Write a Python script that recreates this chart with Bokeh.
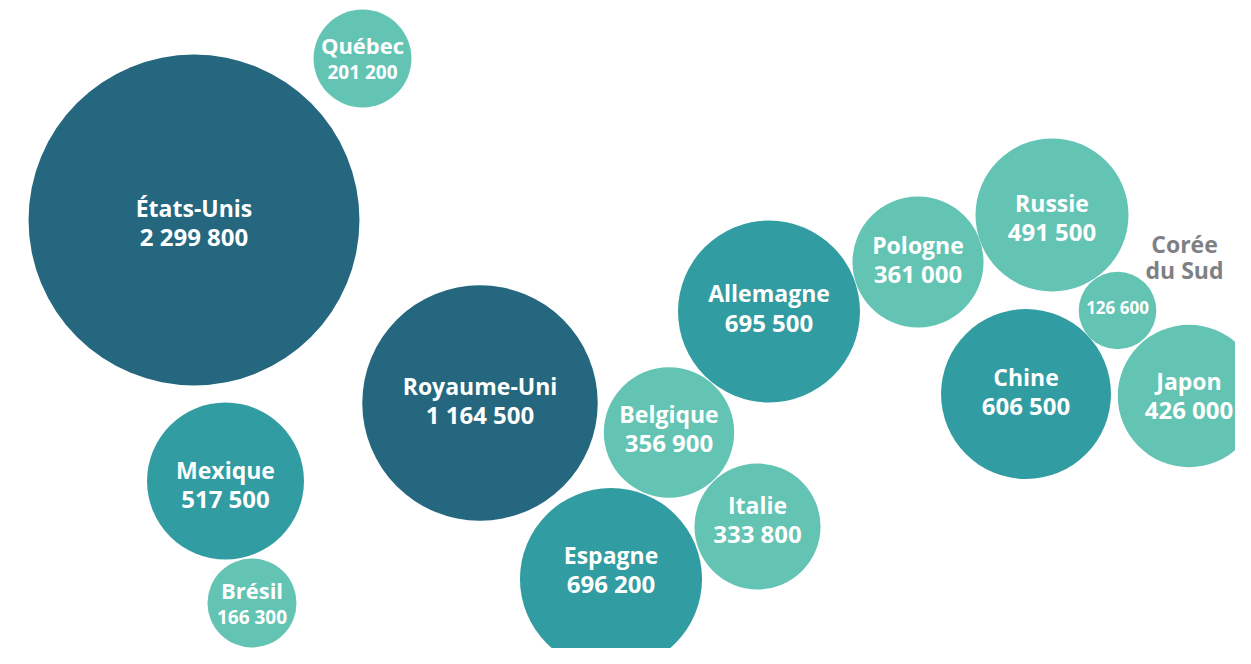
import math
from bokeh.plotting import figure
from bokeh.models import ColumnDataSource, Range1d
from bokeh.core.properties import value
from bokeh.embed import file_html
from bokeh.resources import INLINE

# ---- data ----
countries = ["États-Unis", "Québec", "Royaume-Uni", "Mexique", "Brésil",
             "Belgique", "Espagne", "Italie", "Allemagne", "Pologne",
             "Russie", "Corée du Sud", "Chine", "Japon"]
values = [2299800, 201200, 1164500, 517500, 166300,
          356900, 696200, 333800, 695500, 361000,
          491500, 126600, 606500, 426000]

# ---- layout (bubble centres, page pixels) ----
layout_x = [193.5, 362, 479.5, 225, 251.5, 668.5, 610.5, 757, 768.5, 917.5,
            1051.5, 1117, 1025.5, 1188.5]
layout_y = [219.5, 58, 402.5, 480.5, 602.5, 432, 578.5, 526, 311, 261.5,
            214.5, 310, 393.5, 395.5]
label_dy = [-3.5, -5, -8.5, -2.5, -4.5, -10, -15.5, -13, -9.3, -8.5,
            -3.5, 5, -8.5, -6.5]
outside_label = [False] * 11 + [True] + [False] * 2
SHIFT = -9

# ---- styles ----
DARK, MID, LIGHT, GREY = "#24677E", "#319CA1", "#63C4B4", "#7F8083"
K = 0.1091  # sqrt radius scale


def colour(v):
    if v >= 1_000_000:
        return DARK
    if v >= 500_000:
        return MID
    return LIGHT


def fmt(v):
    return f"{v:,}".replace(",", " ")


radius = [K * math.sqrt(v) for v in values]
colors = [colour(v) for v in values]

circ = ColumnDataSource(dict(x=layout_x, y=layout_y, r=radius, c=colors))

nx, ny, nt, ns = [], [], [], []
vx, vy, vt, vs = [], [], [], []
ox, oy, ot = [], [], []
for name, v, x, y, r, dy, out in zip(countries, values, layout_x, layout_y,
                                      radius, label_dy, outside_label):
    y0 = y + dy + SHIFT
    if out:
        vx.append(x); vy.append(y0 + 1); vt.append(fmt(v)); vs.append("17px")
        parts = name.split(" ", 1)
        ox += [x + 67, x + 67]; oy += [y - 58 + SHIFT, y - 32 + SHIFT]
        ot += parts
        continue
    big = r > 55
    nx.append(x); ny.append(y0); nt.append(name)
    ns.append("23px" if big else "22px")
    vx.append(x); vy.append(y0 + (29 if big else 27)); vt.append(fmt(v))
    vs.append("24px" if big else "19px")

p = figure(width=1235, height=648, x_range=Range1d(0, 1235),
           y_range=Range1d(648, 0), output_backend="svg",
           toolbar_location=None, min_border=0)
p.axis.visible = False
p.grid.visible = False
p.outline_line_color = None
p.background_fill_color = "white"
p.border_fill_color = "white"

p.circle("x", "y", radius="r", source=circ, fill_color="c", line_color=None)

font = value("Open Sans")
p.text(nx, ny, text=nt, text_font=font, text_font_style="bold",
       text_font_size=ns, text_color="white", text_align="center",
       text_baseline="alphabetic")
p.text(vx, vy, text=vt, text_font=font, text_font_style="bold",
       text_font_size=vs, text_color="white", text_align="center",
       text_baseline="alphabetic")
p.text(ox, oy, text=ot, text_font=font, text_font_style="bold",
       text_font_size="23px", text_color=GREY, text_align="center",
       text_baseline="alphabetic")

open("out.html", "w").write(file_html(p, INLINE))
